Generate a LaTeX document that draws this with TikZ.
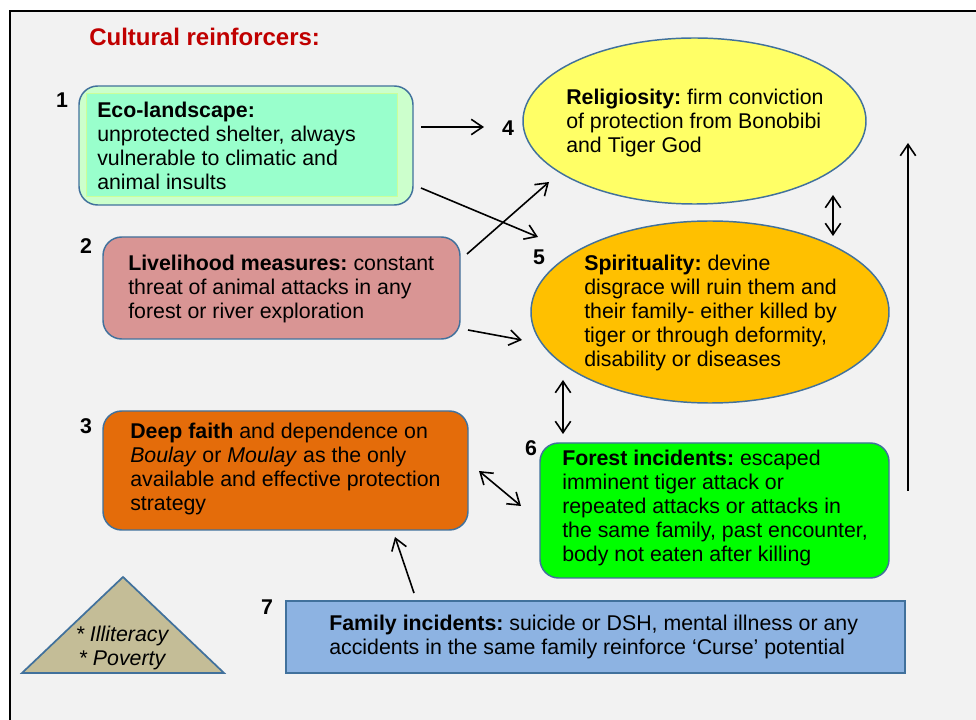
\documentclass[tikz,border=0pt]{standalone}
\usepackage{fontspec}
\setmainfont{Liberation Sans}
\usetikzlibrary{shapes.geometric,arrows.meta}
\definecolor{panel}{HTML}{F2F2F2}
\definecolor{edge}{HTML}{41719C}
\definecolor{titlered}{HTML}{C00000}
\definecolor{ecoout}{HTML}{CCFFCC}
\definecolor{ecoin}{HTML}{99FFCC}
\definecolor{ecoinedge}{HTML}{CCFF99}
\definecolor{liveli}{HTML}{D99594}
\definecolor{faith}{HTML}{E46C0A}
\definecolor{relig}{HTML}{FFFF66}
\definecolor{spirit}{HTML}{FFC000}
\definecolor{forest}{HTML}{00FF00}
\definecolor{family}{HTML}{8DB3E2}
\definecolor{triang}{HTML}{C4BD97}
\def\PX{0.75pt}
\frenchspacing
\begin{document}
\begin{tikzpicture}[x=0.75pt,y=-0.75pt]
\tikzset{
  shapebox/.style={draw=edge, line width=1.1pt, inner sep=0pt},
  rbox/.style={shapebox, rectangle, rounded corners=14pt},
  ell/.style={shapebox, ellipse},
  txt/.style={inner sep=0pt, align=left, anchor=west, font=\fontsize{16}{18}\selectfont},
  num/.style={inner sep=0pt, font=\fontsize{16}{18}\selectfont\bfseries},
  arr/.style={line width=1.2pt, -{Straight Barb[length=8.5pt,width=11.5pt]}},
  dblarr/.style={line width=1.2pt, {Straight Barb[length=8.5pt,width=11.5pt]}-{Straight Barb[length=8.5pt,width=11.5pt]}}
}
\useasboundingbox (0,0) rectangle (976,720);
% panel
\filldraw[fill=panel, draw=black, line width=1.5pt] (10,11) rectangle (1000,740);
% title
\node[inner sep=0pt, anchor=west, text=titlered, font=\fontsize{18}{21}\selectfont\bfseries] (title) at (89,37) {Cultural reinforcers:};

% box 1
\node[rbox, fill=ecoout, minimum width={334*\PX}, minimum height={119*\PX}] (b1) at (246,145.5) {};
\filldraw[fill=ecoin, draw=ecoinedge, line width=1pt] ([shift={(8,8)}]b1.north west) rectangle ([shift={(-16,-9)}]b1.south east);
\node[txt] (t1) at (97,146) {\textbf{Eco-landscape:}\\unprotected shelter, always\\vulnerable to climatic and\\animal insults};
% box 2
\node[rbox, fill=liveli, minimum width={357*\PX}, minimum height={102*\PX}] (b2) at (281.5,288) {};
\node[txt] (t2) at (128,289) {\textbf{Livelihood measures:} constant\\threat of animal attacks in any\\forest or river exploration};
% box 3
\node[rbox, fill=faith, minimum width={365*\PX}, minimum height={119*\PX}] (b3) at (285.5,470.5) {};
\node[txt] (t3) at (130,469) {\textbf{Deep faith} and dependence on\\\textit{Boulay} or \textit{Moulay} as the only\\available and effective protection\\strategy};
% ellipse 4
\node[ell, fill=relig, minimum width={343*\PX}, minimum height={166*\PX}] (e4) at (694.5,121) {};
\node[txt] (t4) at (566,123) {\textbf{Religiosity:} firm conviction\\of protection from Bonobibi\\and Tiger God};
% ellipse 5
\node[ell, fill=spirit, minimum width={358*\PX}, minimum height={182*\PX}] (e5) at (710,312) {};
\node[txt] (t5) at (584,313) {\textbf{Spirituality:} devine\\disgrace will ruin them and\\their family- either killed by\\tiger or through deformity,\\disability or diseases};
% box 6
\node[rbox, fill=forest, minimum width={349*\PX}, minimum height={135*\PX}] (b6) at (714.5,510.5) {};
\node[txt] (t6) at (562,508) {\textbf{Forest incidents:} escaped\\imminent tiger attack or\\repeated attacks or attacks in\\the same family, past encounter,\\body not eaten after killing};
% box 7
\node[shapebox, rectangle, line width=1.8pt, fill=family, minimum width={619*\PX}, minimum height={72*\PX}] (b7) at (595.5,637) {};
\node[txt] (t7) at (329,637) {\textbf{Family incidents:} suicide or DSH, mental illness or any\\accidents in the same family reinforce ‘Curse’ potential};
% triangle
\filldraw[fill=triang, draw=edge, line width=1.3pt] (123,577) -- (224,673) -- (22,673) -- cycle;
\node[inner sep=0pt, align=center, font=\fontsize{16}{18}\selectfont\itshape] (tri) at (122,648) {* Illiteracy\\* Poverty};

% numbers
\node[num] (n1) at (62,100) {1};
\node[num] (n2) at (86,246) {2};
\node[num] (n3) at (86,426) {3};
\node[num] (n4) at (508,128) {4};
\node[num] (n5) at (539,257) {5};
\node[num] (n6) at (531,448) {6};
\node[num] (n7) at (267,607) {7};

% connector end points
\coordinate (a14s) at (421,127);  \coordinate (a14e) at (484,127);
\coordinate (a15s) at (421,188);  \coordinate (a15e) at (538,237);
\coordinate (a24s) at (467,254);  \coordinate (a24e) at (549,182);
\coordinate (a25s) at (468,330);  \coordinate (a25e) at (522,340);
\coordinate (a45s) at (833,195);  \coordinate (a45e) at (833,236);
\coordinate (a56s) at (563,380);  \coordinate (a56e) at (563,434);
\coordinate (a36s) at (479,471);  \coordinate (a36e) at (521,506);
\coordinate (a73s) at (414,593);  \coordinate (a73e) at (395,537);
\coordinate (aRs) at (908,491);   \coordinate (aRe) at (908,143);

\draw[arr] (a14s) -- (a14e);
\draw[arr] (a15s) -- (a15e);
\draw[arr] (a24s) -- (a24e);
\draw[arr] (a25s) -- (a25e);
\draw[dblarr] (a45s) -- (a45e);
\draw[dblarr] (a56s) -- (a56e);
\draw[dblarr] (a36s) -- (a36e);
\draw[arr] (a73s) -- (a73e);
\draw[arr] (aRs) -- (aRe);
\end{tikzpicture}
\end{document}
